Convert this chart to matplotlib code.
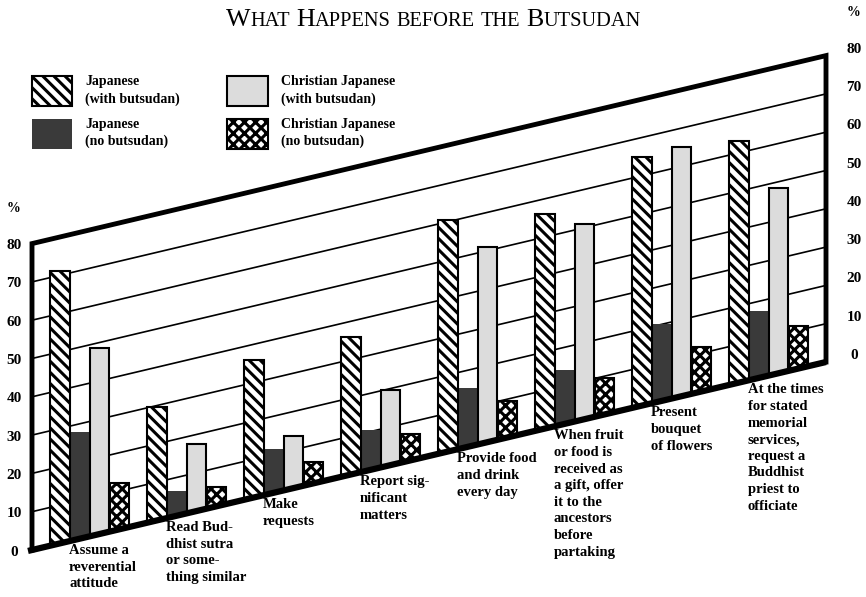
import matplotlib
matplotlib.use("Agg")
import matplotlib.pyplot as plt
from matplotlib.patches import Polygon
from matplotlib.transforms import Affine2D
import numpy as np

# ---- data (percent, measured up from the slanted floor) ----
categories = [
    "Assume a\nreverential\nattitude",
    "Read Bud-\ndhist sutra\nor some-\nthing similar",
    "Make\nrequests",
    "Report sig-\nnificant\nmatters",
    "Provide food\nand drink\nevery day",
    "When fruit\nor food is\nreceived as\na gift, offer\nit to the\nancestors\nbefore\npartaking",
    "Present\nbouquet\nof flowers",
    "At the times\nfor stated\nmemorial\nservices,\nrequest a\nBuddhist\npriest to\nofficiate",
]
jp_with = [71, 29.5, 36, 36, 60.5, 56, 65, 63]
jp_without = [28, 6.5, 11.5, 10.5, 15.5, 14, 20, 17.5]
cj_with = [48.5, 17.5, 13.5, 19.5, 51, 51, 65, 48.5]
cj_without = [12, 5, 5.5, 7, 9.5, 9.5, 11.5, 11]
series_names = ["Japanese\n(with butsudan)", "Japanese\n(no butsudan)",
                "Christian Japanese\n(with butsudan)", "Christian Japanese\n(no butsudan)"]
ticks = [0, 10, 20, 30, 40, 50, 60, 70, 80]

plt.rcParams['font.family'] = ['Liberation Serif', 'DejaVu Serif']
plt.rcParams['hatch.linewidth'] = 2.2

fig = plt.figure(figsize=(8.66, 5.97), dpi=100)
ax = fig.add_axes([0, 0, 1, 1])
ax.set_xlim(0, 866)
ax.set_ylim(597, 0)
ax.axis('off')

# oblique wall: x stays in pixels, the floor climbs to the right
x0, y0, x1, y1 = 32, 550, 826, 362
slope = (y0 - y1) / (x1 - x0)
unit = 306.4 / 80
skew_xy = Affine2D.from_values(1, -slope, 0, -unit, 0, y0 + slope * x0)
skew = skew_xy + ax.transData

wall = Polygon([(x0, 0), (x1, 0), (x1, 80), (x0, 80)], closed=True,
               transform=skew, facecolor='white', edgecolor='none', zorder=0)
ax.add_patch(wall)

# grid lines
for t in ticks[1:-1]:
    ax.plot([x0, x1], [t, t], color='black', lw=1.2, transform=skew, zorder=1)

# bars
group_left = 50 + 97 * np.arange(len(categories))
bar_w = 19.5
offsets = [0, 19.5, 39.5, 59.5]
series = [jp_with, jp_without, cj_with, cj_without]
styles = [
    dict(facecolor='white', edgecolor='black', hatch='\\\\\\', linewidth=1.5, zorder=3),
    dict(facecolor='#3a3a3a', edgecolor='#3a3a3a', linewidth=0, zorder=2),
    dict(facecolor='#dcdcdc', edgecolor='black', linewidth=1.5, zorder=3),
    dict(facecolor='white', edgecolor='black', hatch='xxx', linewidth=1.5, zorder=3),
]

handles = []
for vals, off, st, name in zip(series, offsets, styles, series_names):
    xl = group_left + off
    xc = xl + bar_w / 2
    top = skew_xy.transform(np.column_stack([xc, vals]))[:, 1]
    low = skew_xy.transform(np.column_stack([xl, np.zeros(len(xl))]))[:, 1] + 3
    bars = ax.bar(xl, top - low, width=bar_w, bottom=low, align='edge', label=name, **st)
    for r in bars:
        r.set_clip_path(wall)
    handles.append(bars)

# frame
ax.plot([x0, x0, x1, x1], [0, 80, 80, 0], color='black', lw=3.5,
        transform=skew, zorder=5, solid_joinstyle='miter')
ax.plot([x0 - 4, x1], [0, 0], color='black', lw=4.5, transform=skew, zorder=5,
        solid_capstyle='butt')

# tick labels on both walls
for t in ticks:
    yl = skew_xy.transform((x0, t))[1] + 2
    ax.text(14, yl, str(t), ha='center', va='center', fontsize=11, fontweight='bold')
    yr = skew_xy.transform((x1, t))[1] - 6.5
    ax.text(854, yr, str(t), ha='center', va='center', fontsize=11, fontweight='bold')
ax.text(13, 209, '%', ha='center', va='center', fontsize=10, fontweight='bold')
ax.text(853, 13, '%', ha='center', va='center', fontsize=10, fontweight='bold')

# category labels under the floor
for xl, lab in zip(group_left, categories):
    lx = xl + 19
    ly = skew_xy.transform((lx, 0))[1] + 3
    ax.text(lx, ly, lab, ha='left', va='top', fontsize=10.5, fontweight='bold',
            linespacing=1.36)

# legend
leg = ax.legend(handles=handles, ncol=2, loc='upper left', bbox_to_anchor=(32, 75),
                bbox_transform=ax.transData, frameon=False,
                handlelength=2.9, handleheight=2.9, handletextpad=0.95,
                columnspacing=3.4, labelspacing=0.85, borderpad=0, borderaxespad=0,
                prop={'weight': 'bold', 'size': 10})
for t in leg.get_texts():
    t.set_linespacing(1.4)

# title in small caps
title_parts = [("W", 1), ("HAT", 0), (" ", 0), ("H", 1), ("APPENS", 0), (" ", 0),
               ("BEFORE", 0), (" ", 0), ("THE", 0), (" ", 0), ("B", 1), ("UTSUDAN", 0)]
renderer = fig.canvas.get_renderer()
pieces = []
total = 0
for s, big in title_parts:
    if s == " ":
        pieces.append((None, 6))
        total += 6
        continue
    t = ax.text(0, 26, s, fontsize=18.7 if big else 14.7, va='baseline', ha='left')
    w = t.get_window_extent(renderer).width
    pieces.append((t, w))
    total += w
cursor = 433.5 - total / 2
for t, w in pieces:
    if t is not None:
        t.set_x(cursor)
    cursor += w

fig.savefig("out.png", dpi=100)
